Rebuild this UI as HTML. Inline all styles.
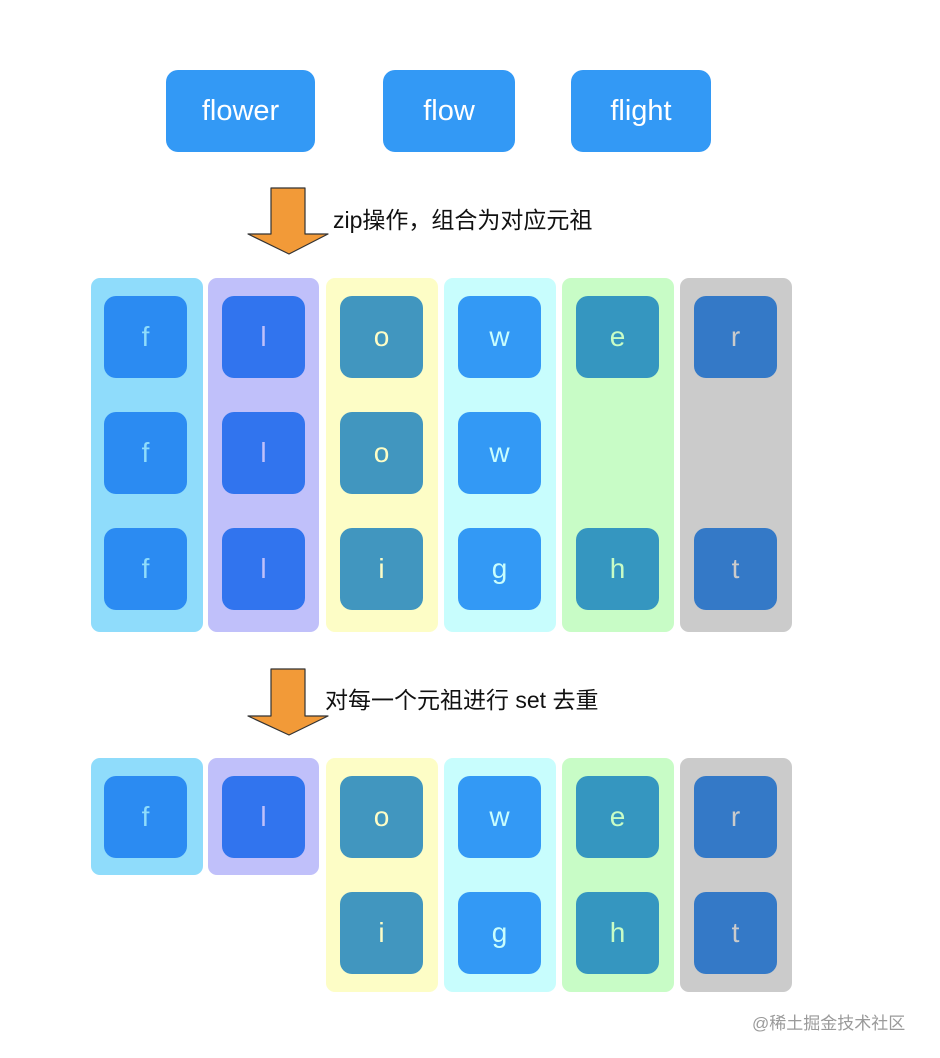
<!DOCTYPE html>
<html><head><meta charset="utf-8"><style>
body{margin:0;width:940px;height:1058px;background:#fff;position:relative;overflow:hidden;font-family:"Liberation Sans","Noto Sans CJK SC",sans-serif}
.a{position:absolute}
.top{position:absolute;top:70px;height:82px;background:#3399f5;border-radius:12px;color:#fff;font-size:29px;display:flex;align-items:center;justify-content:center}
.col{position:absolute;border-radius:9px}
.t{position:absolute;width:83px;height:82px;border-radius:12px;display:flex;align-items:center;justify-content:center;font-size:28px}
.lbl{position:absolute;font-size:23px;color:#111;white-space:nowrap}
</style></head><body>
<div class="top" style="left:166px;width:149px">flower</div>
<div class="top" style="left:383px;width:132px">flow</div>
<div class="top" style="left:571px;width:140px">flight</div>

<svg class="a" style="left:0;top:0" width="940" height="1058">
<polygon points="271,188 305,188 305,234 328,234 289,254 248,234 271,234" fill="#f29a38" stroke="#333" stroke-width="1.2" stroke-linejoin="round"/>
<polygon points="271,669 305,669 305,716 328,716 289,735 248,716 271,716" fill="#f29a38" stroke="#333" stroke-width="1.2" stroke-linejoin="round"/>
</svg>
<div class="lbl" style="left:333px;top:201px">zip操作，组合为对应元祖</div>
<div class="lbl" style="left:325px;top:681px">对每一个元祖进行 set 去重</div>

<!-- section 1 columns -->
<div class="col" style="left:91px;top:278px;width:112px;height:354px;background:#8fdcfb"></div>
<div class="col" style="left:208px;top:278px;width:111px;height:354px;background:#c0c0fa"></div>
<div class="col" style="left:326px;top:278px;width:112px;height:354px;background:#fdfdc6"></div>
<div class="col" style="left:444px;top:278px;width:112px;height:354px;background:#c8fdfd"></div>
<div class="col" style="left:562px;top:278px;width:112px;height:354px;background:#c8fcc6"></div>
<div class="col" style="left:680px;top:278px;width:112px;height:354px;background:#cbcbcb"></div>

<div class="t" style="left:104px;top:296px;background:#2b8bf2;color:#8fdcfb">f</div>
<div class="t" style="left:104px;top:412px;background:#2b8bf2;color:#8fdcfb">f</div>
<div class="t" style="left:104px;top:528px;background:#2b8bf2;color:#8fdcfb">f</div>
<div class="t" style="left:222px;top:296px;background:#3174ee;color:#c0c0fa">l</div>
<div class="t" style="left:222px;top:412px;background:#3174ee;color:#c0c0fa">l</div>
<div class="t" style="left:222px;top:528px;background:#3174ee;color:#c0c0fa">l</div>
<div class="t" style="left:340px;top:296px;background:#4196bf;color:#fdfdc6">o</div>
<div class="t" style="left:340px;top:412px;background:#4196bf;color:#fdfdc6">o</div>
<div class="t" style="left:340px;top:528px;background:#4196bf;color:#fdfdc6">i</div>
<div class="t" style="left:458px;top:296px;background:#3399f5;color:#c8fdfd">w</div>
<div class="t" style="left:458px;top:412px;background:#3399f5;color:#c8fdfd">w</div>
<div class="t" style="left:458px;top:528px;background:#3399f5;color:#c8fdfd">g</div>
<div class="t" style="left:576px;top:296px;background:#3596c0;color:#c8fcc6">e</div>
<div class="t" style="left:576px;top:528px;background:#3596c0;color:#c8fcc6">h</div>
<div class="t" style="left:694px;top:296px;background:#3479c7;color:#cbcbcb">r</div>
<div class="t" style="left:694px;top:528px;background:#3479c7;color:#cbcbcb">t</div>

<!-- section 2 -->
<div class="col" style="left:91px;top:758px;width:112px;height:117px;background:#8fdcfb"></div>
<div class="col" style="left:208px;top:758px;width:111px;height:117px;background:#c0c0fa"></div>
<div class="col" style="left:326px;top:758px;width:112px;height:234px;background:#fdfdc6"></div>
<div class="col" style="left:444px;top:758px;width:112px;height:234px;background:#c8fdfd"></div>
<div class="col" style="left:562px;top:758px;width:112px;height:234px;background:#c8fcc6"></div>
<div class="col" style="left:680px;top:758px;width:112px;height:234px;background:#cbcbcb"></div>

<div class="t" style="left:104px;top:776px;background:#2b8bf2;color:#8fdcfb">f</div>
<div class="t" style="left:222px;top:776px;background:#3174ee;color:#c0c0fa">l</div>
<div class="t" style="left:340px;top:776px;background:#4196bf;color:#fdfdc6">o</div>
<div class="t" style="left:340px;top:892px;background:#4196bf;color:#fdfdc6">i</div>
<div class="t" style="left:458px;top:776px;background:#3399f5;color:#c8fdfd">w</div>
<div class="t" style="left:458px;top:892px;background:#3399f5;color:#c8fdfd">g</div>
<div class="t" style="left:576px;top:776px;background:#3596c0;color:#c8fcc6">e</div>
<div class="t" style="left:576px;top:892px;background:#3596c0;color:#c8fcc6">h</div>
<div class="t" style="left:694px;top:776px;background:#3479c7;color:#cbcbcb">r</div>
<div class="t" style="left:694px;top:892px;background:#3479c7;color:#cbcbcb">t</div>

<div class="a" style="left:752px;top:1009px;font-size:17px;color:#9a9a9a;white-space:nowrap">@稀土掘金技术社区</div>
</body></html>
